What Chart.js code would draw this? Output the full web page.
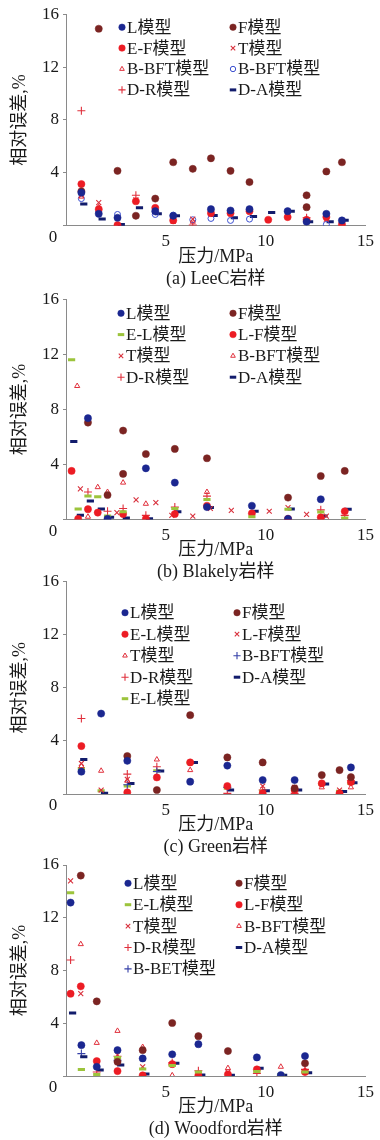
<!DOCTYPE html>
<html>
<head>
<meta charset="utf-8">
<script src="https://cdn.jsdelivr.net/npm/chart.js@4.4.1/dist/chart.umd.min.js"></script>
<style>
  body { margin: 0; background: #fff; }
  #wrap { position: relative; width: 380px; height: 1140px; overflow: hidden; }
  #wrap canvas { position: absolute; left: 0; }
</style>
</head>
<body>
<div id="wrap">
  <canvas id="panelA"></canvas>
  <canvas id="panelB"></canvas>
  <canvas id="panelC"></canvas>
  <canvas id="panelD"></canvas>
</div>
<script>
// ---- data: [pressure MPa, relative error %] ----
const xTicks = [0, 5, 10, 15];
const yTicks = [0, 4, 8, 12, 16];
const xTitle = '压力/MPa';
const yTitle = '相对误差,%';

// (a) LeeC
const aL = [[0.77,2.5],[1.64,0.9],[2.58,0.6],[4.47,1.1],[5.37,0.75],[7.26,1.25],[8.24,1.15],[9.19,1.25],[11.1,1.1],[12.05,0.3],[13.04,0.9],[13.82,0.4]];
const aF = [[0.77,2.6],[1.64,14.9],[2.58,4.15],[3.5,0.75],[4.47,2.05],[5.37,4.8],[6.35,4.3],[7.26,5.1],[8.24,4.15],[9.19,3.3],[12.05,2.3],[12.05,1.4],[13.04,4.1],[13.82,4.8]];
const aEF = [[0.77,3.15],[1.64,1.25],[2.58,0.05],[3.5,1.85],[4.47,1.35],[5.37,0.4],[7.26,0.95],[8.24,0.95],[9.19,1.1],[10.13,0.45],[11.1,0.65],[12.05,0.45],[13.04,0.65],[13.82,0.1]];
const aT = [[0.77,2.3],[1.64,1.75],[3.5,1.95],[5.37,0.35],[6.35,0.5],[12.05,0.45],[13.04,0.5]];
const aBFTtri = [[0.77,2.2],[1.64,1.4],[5.37,0.5],[6.35,0.3],[12.05,0.5]];
const aBFTring = [[0.77,2.05],[1.64,1.05],[2.58,0.85],[4.47,0.85],[5.37,0.8],[6.35,0.45],[7.26,0.55],[8.24,0.4],[9.19,0.5],[12.05,0.35],[13.04,0.1]];
const aDR = [[0.77,8.7],[3.5,2.3],[6.35,0.05],[12.05,0.6]];
const aDA = [[0.89,1.65],[1.81,0.5],[2.77,0.1],[3.68,1.35],[4.62,0.9],[5.53,0.75],[7.42,0.78],[8.43,0.6],[9.39,0.7],[10.3,1.0],[11.28,1.1],[12.2,0.3],[13.23,0.3],[13.98,0.42]];

// (b) Blakely
const bL = [[1.1,7.36],[2.08,0.05],[4.0,3.72],[5.45,2.68],[7.06,0.9],[9.31,1.0],[11.12,0.05],[12.76,1.47]];
const bF = [[1.1,7.04],[2.08,1.78],[2.86,6.46],[2.86,3.31],[4.0,4.76],[5.45,5.13],[7.06,4.45],[11.12,1.59],[12.76,3.16],[13.96,3.53]];
const bEL = [[0.28,11.6],[0.61,0.76],[1.1,1.71],[1.59,1.66],[2.08,0.25],[2.86,0.57],[5.45,0.8],[7.06,1.46],[9.31,0.2],[11.12,0.75],[12.76,0.55],[13.96,0.1]];
const bLF = [[0.28,3.53],[0.61,0.05],[1.1,0.75],[1.59,0.5],[2.86,0.4],[4.0,0.05],[5.45,0.4],[7.06,1.0],[9.31,0.45],[11.12,0.05],[12.76,0.16],[13.96,0.6]];
const bT = [[0.72,2.22],[2.55,0.5],[3.51,1.42],[4.5,1.23],[5.3,0.3],[6.35,0.24],[7.23,0.8],[8.28,0.66],[10.18,0.6],[11.12,0.86],[12.05,0.37],[13.04,0.25]];
const bBFT = [[0.56,9.7],[1.1,0.2],[1.59,2.35],[2.08,2.0],[2.86,2.68],[4.0,1.14],[7.06,2.0],[11.12,0.1]];
const bDR = [[1.1,2.0],[2.08,0.6],[2.86,0.8],[4.0,0.3],[5.45,0.9],[7.06,1.7],[12.76,0.7],[13.96,0.3]];
const bDA = [[0.39,5.66],[0.72,0.3],[1.22,1.35],[1.77,0.76],[2.23,0.16],[3.02,0.1],[4.18,0.05],[5.6,0.57],[7.23,0.87],[9.47,0.6],[11.28,0.76],[12.92,0.25],[14.13,0.74]];

// (c) Green
const cL = [[0.77,1.68],[1.76,6.06],[3.07,2.5],[6.22,0.93],[8.08,2.14],[9.85,1.05],[11.45,1.05],[14.27,2.0]];
const cF = [[3.07,2.86],[4.55,0.3],[6.22,5.94],[8.08,2.76],[9.85,2.38],[11.45,0.43],[12.81,1.43],[13.7,1.8],[14.27,1.27]];
const cELdot = [[0.77,3.61],[3.07,0.12],[4.55,1.25],[6.22,2.38],[8.08,0.6],[9.85,0.05],[11.45,0.3],[12.81,0.8],[13.7,0.05],[14.27,0.9]];
const cLF = [[0.77,2.3],[1.76,0.3],[3.07,1.1],[9.85,0.6],[11.45,0.5],[13.7,0.3]];
const cT = [[0.77,2.1],[1.76,1.75],[3.07,1.0],[4.55,2.6],[6.22,1.8],[11.45,0.1],[12.81,0.5],[14.27,0.5]];
const cBFT = [[3.07,0.7],[4.55,1.7],[8.08,0.5]];
const cDR = [[0.77,5.69],[3.07,1.5],[4.55,2.05],[8.08,0.05],[9.85,0.3],[11.45,0.05],[14.27,1.0]];
const cDA = [[0.89,2.6],[1.93,0.05],[3.25,0.8],[4.74,1.73],[6.43,2.38],[8.24,0.3],[10.03,0.25],[11.65,0.3],[13.0,0.75],[13.9,0.18],[14.42,0.85]];
const cELdash = [[0.77,1.93],[1.76,0.25],[3.07,0.6],[4.55,1.76],[6.22,2.35],[8.08,0.44],[9.85,0.22],[11.45,0.3],[12.81,0.75],[13.7,0.2],[14.27,0.8]];

// (d) Woodford
const dL = [[0.23,13.15],[0.77,2.34],[1.54,0.7],[2.58,1.96],[3.84,1.33],[5.32,1.64],[6.63,2.41],[9.56,1.41],[10.76,0.07],[11.97,1.51]];
const dF = [[0.74,15.2],[1.54,5.66],[2.58,1.08],[3.84,1.96],[5.32,4.02],[6.63,3.02],[8.11,1.89],[11.97,0.96]];
const dEL = [[0.23,13.9],[0.77,0.5],[1.54,0.12],[2.58,1.4],[3.84,0.53],[5.32,0.8],[6.63,0.3],[9.56,0.35],[10.76,0.1],[11.97,0.3]];
const dLF = [[0.23,6.24],[0.74,6.8],[1.54,1.13],[2.58,0.37],[3.84,0.05],[5.32,0.9],[6.63,0.05],[8.11,0.12],[9.56,0.5],[11.97,0.3]];
const dT = [[0.23,14.8],[0.74,6.24],[2.58,1.6],[3.84,0.7],[8.11,0.3]];
const dBFT = [[0.74,10.0],[1.54,2.51],[2.58,3.42],[3.84,2.2],[5.32,0.05],[8.11,0.6],[10.76,0.7],[11.97,0.4]];
const dDR = [[0.23,8.8],[1.54,0.3],[2.58,1.5],[5.32,1.0],[6.63,0.4],[9.56,0.2],[11.97,0.5]];
const dDA = [[0.33,4.78],[0.89,1.46],[1.71,0.45],[2.74,0.83],[4.0,0.15],[5.5,0.96],[6.8,0.07],[8.28,0.05],[9.72,0.58],[10.9,0.05],[12.15,0.25]];
const dBET = [[0.77,1.7],[2.58,1.2]];

// ---- marker styles ----
const FONT = "'Liberation Serif', 'Noto Sans CJK SC', serif";
const NONE = 'rgba(255,255,255,0)';
const marks = {
  dotNavy:   { pointStyle: 'circle', radius: 3.6, fill: '#1b2790', line: '#1b2790', width: 0.5 },
  dotMaroon: { pointStyle: 'circle', radius: 3.6, fill: '#7b2422', line: '#7b2422', width: 0.5 },
  dotRed:    { pointStyle: 'circle', radius: 3.6, fill: '#ec1c24', line: '#ec1c24', width: 0.5 },
  xRed:      { pointStyle: 'crossRot', radius: 3.5, fill: NONE, line: '#d8303c', width: 1.1 },
  triRed:    { pointStyle: 'triangle', radius: 3, fill: NONE, line: '#e0303c', width: 1 },
  ringBlue:  { pointStyle: 'circle', radius: 3, fill: NONE, line: '#3b4fd0', width: 1 },
  plusRed:   { pointStyle: 'cross', radius: 4, fill: NONE, line: '#e0303c', width: 1.1 },
  plusNavy:  { pointStyle: 'cross', radius: 4, fill: NONE, line: '#3540a8', width: 1.1 },
  dashNavy:  { pointStyle: 'line', radius: 3.6, fill: NONE, line: '#121c6c', width: 3 },
  dashGreen: { pointStyle: 'line', radius: 3.6, fill: NONE, line: '#9cc43c', width: 3 }
};

function series(label, data, m) {
  const s = marks[m];
  return {
    label, data, showLine: false,
    pointStyle: s.pointStyle, pointRadius: s.radius, pointHoverRadius: s.radius,
    pointBackgroundColor: s.fill, pointBorderColor: s.line, pointBorderWidth: s.width,
    backgroundColor: s.fill, borderColor: s.line, borderWidth: s.width
  };
}

// legend drawn inside the plot, two columns, plus the shared "0" at the corner
const panelDecor = {
  id: 'panelDecor',
  afterDatasetsDraw(chart, args, opts) {
    const { ctx, chartArea } = chart;
    ctx.save();
    ctx.textBaseline = 'middle';
    chart.data.datasets.forEach((ds, i) => {
      const x = chartArea.left + opts.cols[i % 2];
      const y = chartArea.top + opts.top + Math.floor(i / 2) * opts.step;
      ctx.fillStyle = ds.pointBackgroundColor;
      ctx.strokeStyle = ds.pointBorderColor;
      ctx.lineWidth = ds.pointBorderWidth;
      Chart.helpers.drawPoint(ctx, {
        pointStyle: ds.pointStyle, radius: ds.pointRadius * 0.9, rotation: 0, borderWidth: ds.pointBorderWidth
      }, x, y);
      ctx.fillStyle = '#1a1a1a';
      ctx.font = '17px ' + FONT;
      ctx.textAlign = 'left';
      ctx.fillText(ds.label, x + 5, y + 1);
    });
    ctx.font = '17px ' + FONT;
    ctx.textAlign = 'center';
    ctx.fillStyle = '#1a1a1a';
    ctx.fillText('0', chartArea.left - 13, chartArea.bottom + 12);
    ctx.restore();
  }
};

function makePanel(id, top, height, plotTop, plotBottom, caption, datasets, legend) {
  const cv = document.getElementById(id);
  cv.width = 380; cv.height = height;
  cv.style.top = top + 'px';
  return new Chart(cv, {
    type: 'scatter',
    data: { datasets },
    options: {
      responsive: false,
      animation: false,
      devicePixelRatio: 1,
      layout: { padding: { top: plotTop, right: 9, bottom: 0, left: 0 } },
      plugins: {
        legend: { display: false },
        tooltip: { enabled: false },
        panelDecor: legend
      },
      scales: {
        x: {
          type: 'linear', min: xTicks[0], max: xTicks[xTicks.length - 1],
          afterBuildTicks: s => { s.ticks = xTicks.map(v => ({ value: v })); },
          afterFit: s => { s.height = height - plotBottom; },
          border: { color: '#8a8a8a', width: 1 },
          grid: { drawOnChartArea: false, drawTicks: false },
          ticks: {
            padding: 6, color: '#1a1a1a', font: { family: FONT, size: 17 },
            callback: v => (v === 0 ? '' : v)
          },
          title: {
            display: true, text: [xTitle, caption], color: '#1a1a1a',
            font: { family: FONT, size: 18, lineHeight: 1.25 }, padding: { top: 0, bottom: 1 }
          }
        },
        y: {
          type: 'linear', min: yTicks[0], max: yTicks[yTicks.length - 1],
          afterBuildTicks: s => { s.ticks = yTicks.map(v => ({ value: v })); },
          afterFit: s => { s.width = 66; },
          border: { color: '#8a8a8a', width: 1 },
          grid: { drawOnChartArea: false, drawTicks: true, tickLength: 3, color: '#8a8a8a' },
          ticks: {
            padding: 4, color: '#1a1a1a', font: { family: FONT, size: 17 },
            callback: v => (v === 0 ? '' : v)
          },
          title: {
            display: true, text: yTitle, color: '#1a1a1a',
            font: { family: FONT, size: 18 }, padding: { top: 9, bottom: 0 }
          }
        }
      }
    },
    plugins: [panelDecor]
  });
}

makePanel('panelA', 0, 292, 13.7, 225.7, '(a) LeeC岩样', [
  series('L模型', aL, 'dotNavy'),
  series('F模型', aF, 'dotMaroon'),
  series('E-F模型', aEF, 'dotRed'),
  series('T模型', aT, 'xRed'),
  series('B-BFT模型', aBFTtri, 'triRed'),
  series('B-BFT模型', aBFTring, 'ringBlue'),
  series('D-R模型', aDR, 'plusRed'),
  series('D-A模型', aDA, 'dashNavy')
], { cols: [56, 167], top: 13, step: 20.9 });

makePanel('panelB', 280, 305, 19.3, 239.5, '(b) Blakely岩样', [
  series('L模型', bL, 'dotNavy'),
  series('F模型', bF, 'dotMaroon'),
  series('E-L模型', bEL, 'dashGreen'),
  series('L-F模型', bLF, 'dotRed'),
  series('T模型', bT, 'xRed'),
  series('B-BFT模型', bBFT, 'triRed'),
  series('D-R模型', bDR, 'plusRed'),
  series('D-A模型', bDA, 'dashNavy')
], { cols: [55, 167], top: 14, step: 21.3 });

makePanel('panelC', 562, 298, 19.7, 232, '(c) Green岩样', [
  series('L模型', cL, 'dotNavy'),
  series('F模型', cF, 'dotMaroon'),
  series('E-L模型', cELdot, 'dotRed'),
  series('L-F模型', cLF, 'xRed'),
  series('T模型', cT, 'triRed'),
  series('B-BFT模型', cBFT, 'plusNavy'),
  series('D-R模型', cDR, 'plusRed'),
  series('D-A模型', cDA, 'dashNavy'),
  series('E-L模型', cELdash, 'dashGreen')
], { cols: [59, 171], top: 31, step: 21.5 });

makePanel('panelD', 846, 296, 19, 230, '(d) Woodford岩样', [
  series('L模型', dL, 'dotNavy'),
  series('F模型', dF, 'dotMaroon'),
  series('E-L模型', dEL, 'dashGreen'),
  series('L-F模型', dLF, 'dotRed'),
  series('T模型', dT, 'xRed'),
  series('B-BFT模型', dBFT, 'triRed'),
  series('D-R模型', dDR, 'plusRed'),
  series('D-A模型', dDA, 'dashNavy'),
  series('B-BET模型', dBET, 'plusNavy')
], { cols: [62, 173], top: 18.3, step: 21.4 });
</script>
</body>
</html>
